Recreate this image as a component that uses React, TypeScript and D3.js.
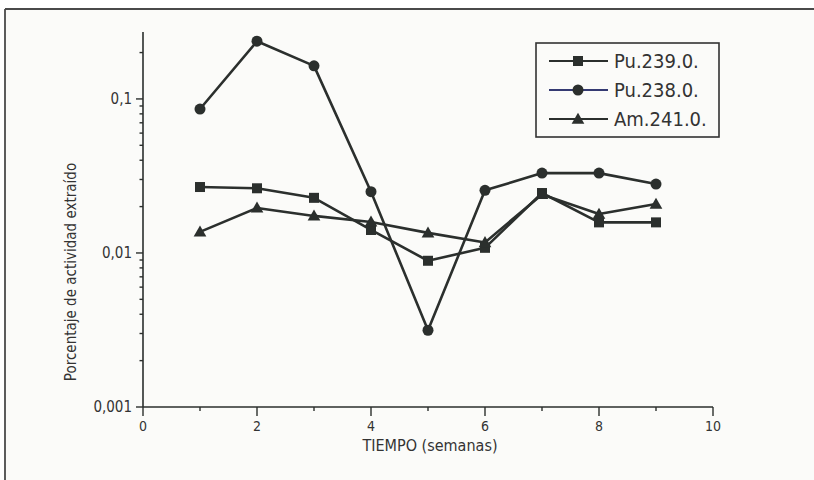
import React from "react";
import * as d3 from "d3";

const weeks = [1, 2, 3, 4, 5, 6, 7, 8, 9];
const pu239 = [0.0268, 0.0263, 0.0228, 0.0141, 0.0089, 0.0108, 0.0245, 0.0158, 0.0158];
const pu238 = [0.086, 0.237, 0.164, 0.025, 0.00315, 0.0255, 0.033, 0.033, 0.028];
const am241 = [0.0137, 0.0196, 0.0174, 0.0159, 0.0135, 0.0117, 0.024, 0.0179, 0.0208];
const seriesNames = ["Pu.239.0.", "Pu.238.0.", "Am.241.0."];
const xTicksMajor = [0, 2, 4, 6, 8, 10];
const xTicksMinor = [1, 3, 5, 7, 9];
const yTicksMajor = [0.001, 0.01, 0.1];
const yTickLabels = ["0,001", "0,01", "0,1"];
const xTitle = "TIEMPO (semanas)";
const yTitle = "Porcentaje de actividad extraído";

const W = 814;
const H = 480;
const INK = "#2b2f2d";
const FONT = "'Liberation Sans Narrow', 'DejaVu Sans Condensed', 'Roboto Condensed', sans-serif";

function Marker({ kind, x, y }: { kind: string; x: number; y: number }) {
  if (kind === "square") return <rect x={x - 5} y={y - 5} width={10} height={10} fill={INK} />;
  if (kind === "circle") return <circle cx={x} cy={y} r={5.5} fill={INK} />;
  const tri = d3.symbol().type(d3.symbolTriangle).size(70)();
  return <path d={tri || ""} transform={`translate(${x},${y + 1})`} fill={INK} />;
}

export default function App() {
  const x = d3.scaleLinear().domain([0, 10]).range([143, 713]);
  const y = d3.scaleLog().domain([0.001, 0.272]).range([407, 32]);
  const line = d3
    .line<[number, number]>()
    .x((d) => x(d[0]))
    .y((d) => y(d[1]));

  const yMinor: number[] = [];
  [0.001, 0.01, 0.1].forEach((dec) => {
    for (let k = 2; k <= 9; k++) {
      const v = dec * k;
      if (v <= 0.272) yMinor.push(v);
    }
  });

  const series = [
    { name: seriesNames[0], vals: pu239, kind: "square", legendStroke: INK },
    { name: seriesNames[1], vals: pu238, kind: "circle", legendStroke: "#343a72" },
    { name: seriesNames[2], vals: am241, kind: "triangle", legendStroke: INK },
  ];

  const [y0, y1] = y.range();
  const [x0, x1] = x.range();

  return (
    <svg
      width={W}
      height={H}
      style={{ position: "absolute", left: 0, top: 0, background: "#ffffff" }}
      fontFamily={FONT}
    >
      <rect x={5} y={9} width={W} height={H} fill="#fbfbf9" stroke="none" />
      <line x1={5} y1={9} x2={W} y2={9} stroke="#4a4a4a" strokeWidth={1.8} />
      <line x1={5} y1={9} x2={5} y2={H} stroke="#4a4a4a" strokeWidth={1.8} />

      {/* axes */}
      <line x1={x0} y1={y0} x2={x0} y2={y1} stroke={INK} strokeWidth={1.6} />
      <line x1={x0} y1={y0} x2={x1} y2={y0} stroke={INK} strokeWidth={1.6} />
      {xTicksMajor.map((t) => (
        <g key={"xm" + t}>
          <line x1={x(t)} x2={x(t)} y1={y0} y2={y0 + 9} stroke={INK} strokeWidth={1.4} />
          <text x={x(t)} y={y0 + 24} textAnchor="middle" fontSize={14} fill="#333">
            {t}
          </text>
        </g>
      ))}
      {xTicksMinor.map((t) => (
        <line key={"xn" + t} x1={x(t)} x2={x(t)} y1={y0} y2={y0 + 4} stroke={INK} strokeWidth={1.4} />
      ))}
      {yTicksMajor.map((t, i) => (
        <g key={"ym" + t}>
          <line x1={x0 - 7} x2={x0} y1={y(t)} y2={y(t)} stroke={INK} strokeWidth={1.4} />
          <text x={x0 - 11} y={y(t) + 5} textAnchor="end" fontSize={15} fill="#333">
            {yTickLabels[i]}
          </text>
        </g>
      ))}
      {yMinor.map((t) => (
        <line key={"yn" + t} x1={x0 - 3.5} x2={x0} y1={y(t)} y2={y(t)} stroke={INK} strokeWidth={1.4} />
      ))}
      <text x={430} y={451} textAnchor="middle" fontSize={16} fill="#333">
        {xTitle}
      </text>
      <text
        transform={`translate(76,272) rotate(-90)`}
        textAnchor="middle"
        fontSize={15}
        fill="#333"
      >
        {yTitle}
      </text>

      {/* series */}
      {series.map((s) => (
        <g key={s.name}>
          <path
            d={line(weeks.map((w, i) => [w, s.vals[i]] as [number, number])) || ""}
            fill="none"
            stroke={INK}
            strokeWidth={2.6}
            strokeLinejoin="round"
          />
          {weeks.map((w, i) => (
            <Marker key={w} kind={s.kind} x={x(w)} y={y(s.vals[i])} />
          ))}
        </g>
      ))}

      {/* legend */}
      <rect x={536} y={43} width={183} height={94} fill="#fbfbf9" stroke="#333" strokeWidth={1.6} />
      {series.map((s, i) => {
        const ly = 61 + i * 29;
        return (
          <g key={"lg" + s.name}>
            <line x1={549} x2={608} y1={ly} y2={ly} stroke={s.legendStroke} strokeWidth={2} />
            <Marker kind={s.kind} x={578} y={ly} />
            <text x={614} y={ly + 7} fontSize={20} fill="#333">
              {s.name}
            </text>
          </g>
        );
      })}
    </svg>
  );
}
